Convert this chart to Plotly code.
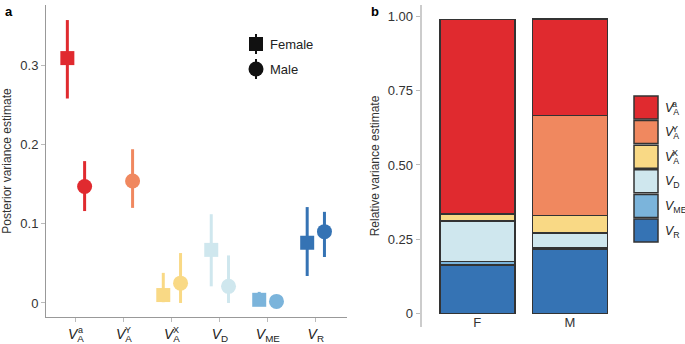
import plotly.graph_objects as go

W, H = 685, 344
FONT = "Liberation Sans, Arial, sans-serif"

# ---------------- data ----------------
components = ["Va", "VY", "VX", "VD", "VME", "VR"]
tick_main = ["<i>V</i><sub>A</sub>", "<i>V</i><sub>A</sub>", "<i>V</i><sub>A</sub>",
             "<i>V</i><sub>D</sub>", "<i>V</i><sub>ME</sub>", "<i>V</i><sub>R</sub>"]
tick_sup = ["a", "Y", "X", "", "", ""]
colors = ["#E02A2F", "#F0885F", "#F9D985", "#CFE7EE", "#7BB4DB", "#3573B4"]

female_est = [0.309, None, 0.010, 0.067, 0.004, 0.076]
female_lo = [0.258, None, 0.001, 0.021, 0.000, 0.034]
female_hi = [0.357, None, 0.038, 0.112, 0.014, 0.121]

male_est = [0.147, 0.154, 0.025, 0.021, 0.002, 0.090]
male_lo = [0.116, 0.120, 0.000, 0.000, 0.000, 0.058]
male_hi = [0.179, 0.194, 0.063, 0.060, 0.004, 0.115]

sexes = ["F", "M"]
rel_F = [0.656, 0.000, 0.023, 0.137, 0.011, 0.163]
rel_M = [0.326, 0.337, 0.059, 0.048, 0.005, 0.217]

legend_a = ["Female", "Male"]

# ---------------- helpers (layout only) ----------------
def px(x):
    return x / W

def py(y):
    return 1 - y / H

fig = go.Figure()

# ---------------- panel a ----------------
offset = 0.18
for i, c in enumerate(components):
    for est, lo, hi, dx, sym, size in [
        (female_est, female_lo, female_hi, -offset, "square", 14),
        (male_est, male_lo, male_hi, offset, "circle", 15),
    ]:
        if est[i] is None:
            continue
        fig.add_trace(go.Scatter(
            x=[i + dx], y=[est[i]], mode="markers",
            marker=dict(symbol=sym, size=size, color=colors[i], line=dict(width=0)),
            error_y=dict(type="data", symmetric=False,
                         array=[hi[i] - est[i]], arrayminus=[est[i] - lo[i]],
                         color=colors[i], thickness=3, width=0),
            showlegend=False, xaxis="x", yaxis="y", hoverinfo="skip"))

# ---------------- panel b ----------------
order = [5, 4, 3, 2, 1, 0]  # bottom to top: VR, VME, VD, VX, VY, Va
for k in order:
    fig.add_trace(go.Bar(
        x=sexes, y=[rel_F[k], rel_M[k]], marker=dict(color=colors[k], line=dict(color="#333333", width=1.5)),
        showlegend=False, xaxis="x2", yaxis="y2", hoverinfo="skip"))

tickfont = dict(family=FONT, size=13, color="#333333")
fig.update_layout(
    width=W, height=H, margin=dict(l=0, r=0, t=0, b=0),
    paper_bgcolor="white", plot_bgcolor="white",
    barmode="stack", bargap=0.19,
    font=dict(family=FONT, color="#333333"),
    xaxis=dict(domain=[px(46), px(347)], range=[-0.625, 5.65],
               tickvals=list(range(6)), ticktext=tick_main,
               tickfont=dict(family=FONT, size=14, color="#222222"),
               showline=True, linecolor="#999999", linewidth=1,
               ticks="outside", ticklen=4, tickcolor="#bbbbbb",
               showgrid=False, zeroline=False, anchor="y"),
    yaxis=dict(domain=[py(317), py(5)], range=[-0.0177, 0.376],
               tickvals=[0, 0.1, 0.2, 0.3], ticktext=["0", "0.1", "0.2", "0.3"],
               tickfont=tickfont,
               showline=True, linecolor="#999999", linewidth=1,
               ticks="outside", ticklen=4, tickcolor="#bbbbbb",
               showgrid=False, zeroline=False, anchor="x",
               title=dict(text="Posterior variance estimate", font=dict(family=FONT, size=12, color="#333333"), standoff=6)),
    xaxis2=dict(domain=[px(421.7), px(625.5)], range=[-0.6, 1.6], type="category",
                tickfont=tickfont, showline=False, ticks="", showgrid=False,
                zeroline=False, anchor="free", position=py(313)),
    yaxis2=dict(domain=[py(327), py(5)], range=[-0.046, 1.039],
                tickvals=[0, 0.25, 0.5, 0.75, 1.0], ticktext=["0", "0.25", "0.50", "0.75", "1.00"],
                tickfont=tickfont,
                showline=True, linecolor="#cccccc", linewidth=2,
                ticks="outside", ticklen=4, tickcolor="#bbbbbb",
                showgrid=False, zeroline=False, anchor="x2",
                title=dict(text="Relative variance estimate", font=dict(family=FONT, size=12, color="#333333"), standoff=6)),
)

shapes = []
annotations = []

# superscripts for panel a tick labels
for i, s in enumerate(tick_sup):
    if s:
        annotations.append(dict(x=i, y=py(330), xref="x", yref="paper", text=s, showarrow=False,
                                xshift=4.5, font=dict(family=FONT, size=9, color="#222222"),
                                xanchor="center", yanchor="middle"))

# panel labels
annotations.append(dict(x=px(3), y=py(2), xref="paper", yref="paper", text="<b>a</b>", showarrow=False,
                        xanchor="left", yanchor="top", font=dict(family=FONT, size=13, color="#000000")))
annotations.append(dict(x=px(369), y=py(2), xref="paper", yref="paper", text="<b>b</b>", showarrow=False,
                        xanchor="left", yanchor="top", font=dict(family=FONT, size=13, color="#000000")))

# legend panel a
leg_y = [44, 69]
leg_sym = ["rect", "circle"]
for lab, yy, sym in zip(legend_a, leg_y, leg_sym):
    shapes.append(dict(type="line", xref="paper", yref="paper", x0=px(256), x1=px(256),
                       y0=py(yy - 10), y1=py(yy + 10), line=dict(color="#111111", width=2)))
    r = 7 if sym == "rect" else 7.5
    shapes.append(dict(type=sym, xref="paper", yref="paper", x0=px(256 - r), x1=px(256 + r),
                       y0=py(yy - r), y1=py(yy + r), fillcolor="#111111", line=dict(width=0)))
    annotations.append(dict(x=px(268), y=py(yy), xref="paper", yref="paper", text=lab, showarrow=False,
                            xanchor="left", yanchor="middle", font=dict(family=FONT, size=13, color="#222222")))

# legend panel b
for k in range(6):
    top = 96 + 24.6 * k
    shapes.append(dict(type="rect", xref="paper", yref="paper", x0=px(634), x1=px(658),
                       y0=py(top + 23), y1=py(top), fillcolor=colors[k],
                       line=dict(color="#333333", width=1.5)))
    annotations.append(dict(x=px(663), y=py(top + 12.5), xref="paper", yref="paper", text=tick_main[k],
                            showarrow=False, xanchor="left", yanchor="middle",
                            font=dict(family=FONT, size=12.5, color="#222222")))
    if tick_sup[k]:
        annotations.append(dict(x=px(674.5), y=py(top + 8), xref="paper", yref="paper", text=tick_sup[k],
                                showarrow=False, xanchor="center", yanchor="middle",
                                font=dict(family=FONT, size=9, color="#222222")))

fig.update_layout(shapes=shapes, annotations=annotations)
fig.write_html("out.html")
